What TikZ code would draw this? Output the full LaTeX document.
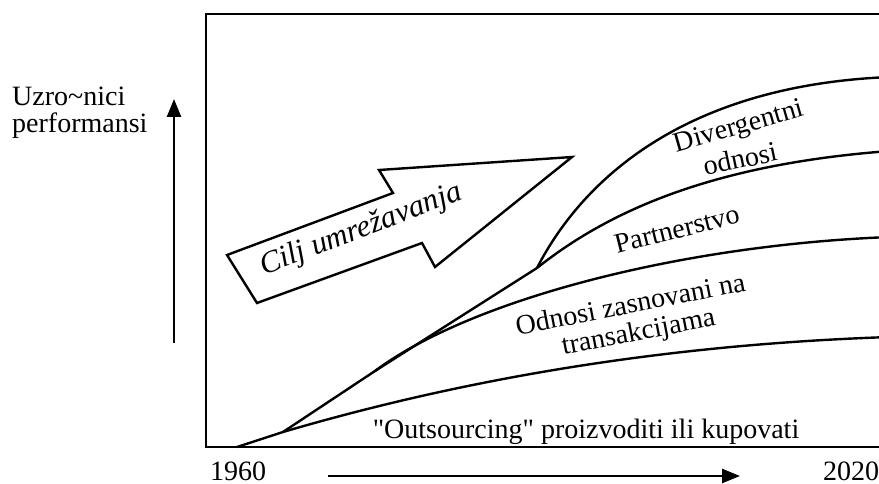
\documentclass[tikz,border=0pt]{standalone}
\usepackage{fontspec}
\setmainfont{Liberation Serif}[Ligatures=TeXOff]
\usetikzlibrary{arrows.meta}
\begin{document}
\begin{tikzpicture}[x=1pt,y=-1pt,
  lbl/.style={font=\fontsize{28}{28}\selectfont, inner sep=0pt, anchor=base},
  curve/.style={line width=2.4pt, line join=round},
  frameline/.style={line width=2pt},
  axisarrow/.style={line width=2.6pt, -{Triangle[length=18pt,width=14pt]}},
  bigarrow/.style={line width=2.4pt, line join=miter, fill=white}]
\useasboundingbox (0,0) rectangle (879,484);
\clip (0,0) rectangle (879,484);

% frame of the chart (open on the right)
\coordinate (ftr) at (900,14);
\coordinate (ftl) at (206,14);
\coordinate (fbl) at (206,447);
\coordinate (fbr) at (900,447);
\draw[frameline] (ftr) -- (ftl) -- (fbl) -- (fbr);

% axes
\coordinate (ya) at (174,343);
\coordinate (yb) at (174,99);
\draw[axisarrow] (ya) -- (yb);
\coordinate (xa) at (328,476);
\coordinate (xb) at (740,476);
\draw[axisarrow] (xa) -- (xb);

\node[lbl, anchor=base west] (ylab1) at (12,106) {Uzro\textasciitilde nici};
\node[lbl, anchor=base west] (ylab2) at (12,133) {performansi};
\node[lbl] (y1960) at (238,480) {1960};
\node[lbl] (y2020) at (851,480) {2020};

% branching points of the curves
\coordinate (s0) at (237,447);
\coordinate (k1) at (283,432);
\coordinate (k2) at (375,371);
\coordinate (k3) at (537,268);
\coordinate (e1) at (890,337);
\coordinate (e2) at (890,237);
\coordinate (e3) at (890,151);
\coordinate (e4) at (890,77);

\draw[curve] (s0) -- (k1) -- (k2) -- (k3);
\draw[curve] (k1) .. controls (450,383) and (650,345) .. (e1);
\draw[curve] (k2) .. controls (470,300) and (680,245) .. (e2);
\draw[curve] (k3) .. controls (600,218) and (700,165) .. (e3);
\draw[curve] (k3) .. controls (585,175) and (690,85) .. (e4);

% curve labels
\node[lbl, rotate=16] (div) at (741,134) {Divergentni};
\node[lbl, rotate=12] (odn) at (742,168) {odnosi};
\node[lbl, rotate=14] (par) at (679,238) {Partnerstvo};
\node[lbl, rotate=11] (trans1) at (632,313) {Odnosi zasnovani na};
\node[lbl, rotate=11] (trans2) at (640,340) {transakcijama};
\node[lbl] (outs) at (586,438) {"Outsourcing" proizvoditi ili kupovati};

% large outlined arrow
\coordinate (a1) at (257,303);
\coordinate (a2) at (227,255);
\coordinate (a3) at (393,193);
\coordinate (a4) at (379,170);
\coordinate (a5) at (572,157);
\coordinate (a6) at (435,267);
\coordinate (a7) at (422,243);
\draw[bigarrow] (a1) -- (a2) -- (a3) -- (a4) -- (a5) -- (a6) -- (a7) -- cycle;
\node[lbl, rotate=21, font=\fontsize{31}{31}\selectfont\itshape] (goal) at (364,237) {Cilj umrežavanja};
\end{tikzpicture}
\end{document}
